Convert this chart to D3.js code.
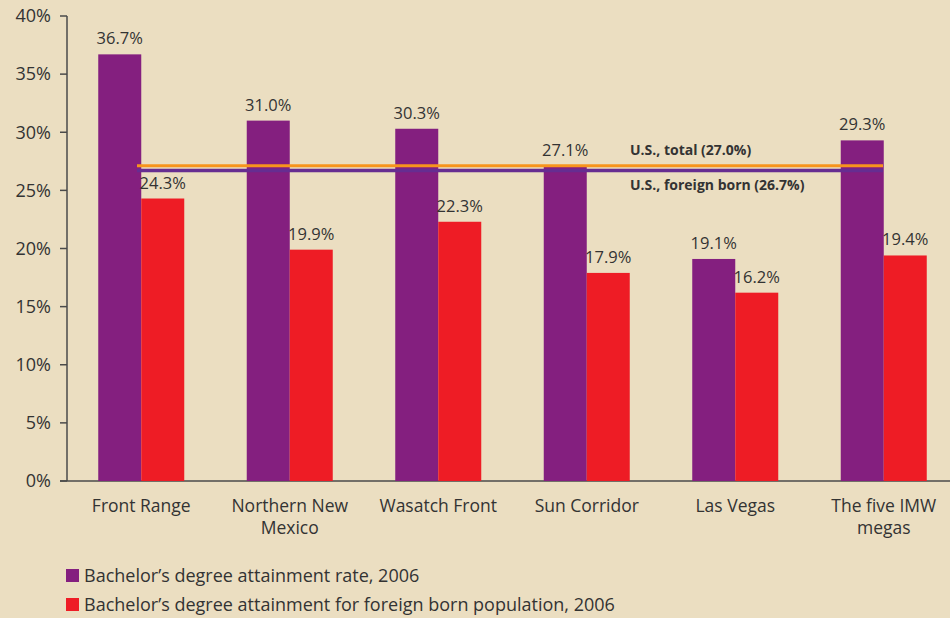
<!DOCTYPE html>
<html>
<head>
<meta charset="utf-8">
<script src="https://cdn.jsdelivr.net/npm/d3@7"></script>
<style>
  body { margin: 0; background: #ebdec1; }
  svg { display: block; font-family: "Open Sans", sans-serif; }
</style>
</head>
<body>
<div id="chart"></div>
<script>
// chart data
const regions = [["Front Range"], ["Northern New", "Mexico"], ["Wasatch Front"], ["Sun Corridor"], ["Las Vegas"], ["The five IMW", "megas"]];
const totalRate = [36.7, 31.0, 30.3, 27.1, 19.1, 29.3];
const foreignRate = [24.3, 19.9, 22.3, 17.9, 16.2, 19.4];
const yTicks = [0, 5, 10, 15, 20, 25, 30, 35, 40];
const seriesNames = ["Bachelor\u2019s degree attainment rate, 2006", "Bachelor\u2019s degree attainment for foreign born population, 2006"];
const usTotal = 27.0;
const usForeign = 26.7;

const width = 950;
const height = 618;
const colors = ["#841f7f", "#ee1c25"];

const svg = d3.select("#chart")
  .append("svg")
  .attr("width", width)
  .attr("height", height);

svg.append("rect").attr("width", width).attr("height", height).attr("fill", "#ebdec1");

const y = d3.scaleLinear().domain([0, 40]).range([481, 16]);
const x = d3.scaleBand().domain(d3.range(regions.length)).range([67, 958]);
const barW = 43;

// axes
svg.append("line")
  .attr("x1", 67).attr("x2", 67)
  .attr("y1", y(40)).attr("y2", y(0))
  .attr("stroke", "#4a4a4a").attr("stroke-width", 1.5);
svg.append("line")
  .attr("x1", 60).attr("x2", width)
  .attr("y1", y(0)).attr("y2", y(0))
  .attr("stroke", "#4a4a4a").attr("stroke-width", 1.5);

const tick = svg.selectAll(".tick").data(yTicks).enter().append("g")
  .attr("transform", d => `translate(0,${y(d)})`);
tick.append("line").attr("x1", 60).attr("x2", 67).attr("stroke", "#4a4a4a").attr("stroke-width", 1.5);
tick.append("text")
  .attr("x", 51).attr("dy", "0.35em")
  .attr("text-anchor", "end")
  .attr("font-size", 18)
  .attr("fill", "#333")
  .text(d => d + "%");

// bars
const group = svg.selectAll(".grp").data(regions).enter().append("g")
  .attr("transform", (d, i) => `translate(${x(i) + x.bandwidth() / 2 - barW},0)`);

[totalRate, foreignRate].forEach((series, s) => {
  group.append("rect")
    .attr("x", s * barW)
    .attr("y", (d, i) => y(series[i]))
    .attr("width", barW)
    .attr("height", (d, i) => y(0) - y(series[i]))
    .attr("fill", colors[s]);
  group.append("text")
    .attr("x", s * barW + barW / 2)
    .attr("y", (d, i) => y(series[i]) - 10)
    .attr("text-anchor", "middle")
    .attr("font-size", 16.5)
    .attr("fill", "#333")
    .text((d, i) => series[i].toFixed(1) + "%");
});

// category labels
group.append("text")
  .attr("x", barW)
  .attr("text-anchor", "middle")
  .attr("font-size", 17.5)
  .attr("fill", "#333")
  .selectAll("tspan")
  .data(d => d)
  .enter().append("tspan")
  .attr("x", barW)
  .attr("y", (d, i) => 512 + i * 22)
  .text(d => d);

// reference lines
const lx0 = 137, lx1 = 883;
svg.append("line")
  .attr("x1", lx0).attr("x2", lx1)
  .attr("y1", y(usForeign)).attr("y2", y(usForeign))
  .attr("stroke", "#662d91").attr("stroke-width", 3.5);
svg.append("line")
  .attr("x1", lx0).attr("x2", lx1)
  .attr("y1", y(usTotal) - 1.5).attr("y2", y(usTotal) - 1.5)
  .attr("stroke", "#f7941d").attr("stroke-width", 3);

svg.append("text")
  .attr("x", 630).attr("y", y(usTotal) - 12)
  .attr("font-size", 14).attr("font-weight", "bold").attr("fill", "#333")
  .text(`U.S., total (${usTotal.toFixed(1)}%)`);
svg.append("text")
  .attr("x", 630).attr("y", y(usForeign) + 19)
  .attr("font-size", 14).attr("font-weight", "bold").attr("fill", "#333")
  .text(`U.S., foreign born (${usForeign.toFixed(1)}%)`);

// legend
const legend = svg.selectAll(".leg").data(seriesNames).enter().append("g")
  .attr("transform", (d, i) => `translate(66,${569 + i * 29})`);
legend.append("rect").attr("width", 13).attr("height", 13).attr("fill", (d, i) => colors[i]);
legend.append("text")
  .attr("x", 18).attr("y", 7).attr("dy", "0.35em")
  .attr("font-size", 18).attr("fill", "#333")
  .text(d => d);
</script>
</body>
</html>
